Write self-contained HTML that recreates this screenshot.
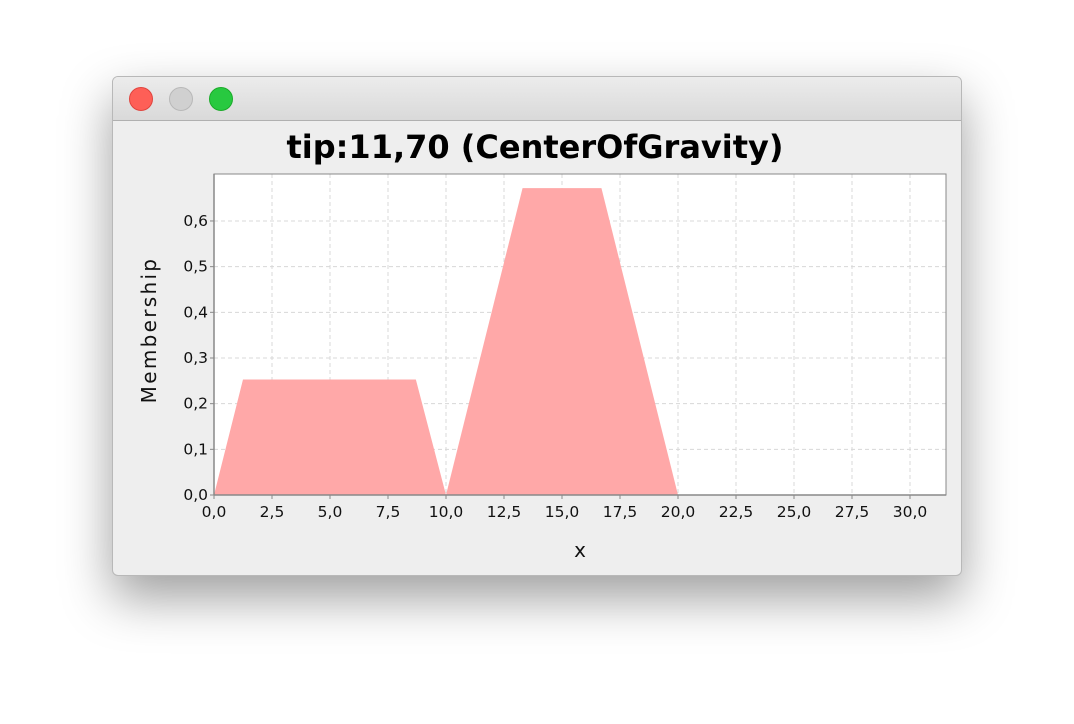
<!DOCTYPE html>
<html><head><meta charset="utf-8"><style>
body{margin:0;width:1074px;height:724px;background:#fff;position:relative;overflow:hidden;font-family:"Liberation Sans",sans-serif}
#win{position:absolute;left:112px;top:76px;width:850px;height:500px;border-radius:6px;background:#eeeeee;box-shadow:0 22px 50px rgba(0,0,0,0.38);border:1px solid #b8b8b8;box-sizing:border-box;overflow:hidden}
#bar{position:absolute;left:0;top:0;width:100%;height:43px;background:linear-gradient(#ececec,#d9d9d9);border-bottom:1px solid #b0b0b0}
.dot{position:absolute;top:10px;width:24px;height:24px;border-radius:50%;box-sizing:border-box}
</style></head><body>
<div id="win">
<div id="bar">
<div class="dot" style="left:16px;background:#fe5f57;border:1px solid #e0443e"></div>
<div class="dot" style="left:56px;background:#d0d0d0;border:1px solid #b8b8b8"></div>
<div class="dot" style="left:96px;background:#28c940;border:1px solid #1aab29"></div>
</div>
</div>
<svg id="chart" width="1074" height="724" style="position:absolute;left:0;top:0"></svg>
<script>
const xTicks=[0,2.5,5,7.5,10,12.5,15,17.5,20,22.5,25,27.5,30];
const yTicks=[0,0.1,0.2,0.3,0.4,0.5,0.6];
const xVals=[0,1.25,8.7,10,13.3,16.7,20,31.5];
const yVals=[0,0.253,0.253,0,0.672,0.672,0,0];
const L=214,R=946,T=174,B=495;
const sx=v=>L+v*23.2, sy=v=>B-v*456.7;
const svg=document.getElementById('chart');
const NS='http://www.w3.org/2000/svg';
function mk(t,a,p){const e=document.createElementNS(NS,t);for(const k in a)e.setAttribute(k,a[k]);(p||svg).appendChild(e);return e;}
const title=mk('text',{x:535,y:158,'text-anchor':'middle','font-size':32,'font-weight':'bold',fill:'#000','font-family':'"DejaVu Sans",sans-serif'});
title.textContent='tip:11,70 (CenterOfGravity)';


const bg=mk('rect',{x:L,y:T,width:R-L,height:B-T,fill:'#fff'});


xTicks.forEach(v=>{const g=mk('line',{x1:sx(v),x2:sx(v),y1:T,y2:B,stroke:'#d8d8d8','stroke-dasharray':'4,3'});

});
yTicks.forEach(v=>{const g=mk('line',{x1:L,x2:R,y1:sy(v),y2:sy(v),stroke:'#d8d8d8','stroke-dasharray':'4,3'});

});
const pts=xVals.map((x,i)=>sx(x)+','+sy(yVals[i])).join(' ');
const area=mk('polygon',{points:pts+' '+sx(xVals[xVals.length-1])+','+B+' '+sx(0)+','+B,fill:'#ffa8a8'});


mk('rect',{x:L,y:T,width:R-L,height:B-T,fill:'none',stroke:'#888','stroke-width':1});
const ax=mk('line',{x1:L,x2:R,y1:B,y2:B,stroke:'#888','stroke-width':1.5});


const ay=mk('line',{x1:L,x2:L,y1:T,y2:B,stroke:'#888','stroke-width':1.5});


const fmt=v=>v.toFixed(1).replace('.',',');
xTicks.forEach(v=>{mk('line',{x1:sx(v),x2:sx(v),y1:B,y2:B+4,stroke:'#888'});
const t=mk('text',{x:sx(v),y:B+22,'text-anchor':'middle','font-size':15.5,fill:'#111','font-family':'"DejaVu Sans",sans-serif'});t.textContent=fmt(v);

});
yTicks.forEach(v=>{mk('line',{x1:L-4,x2:L,y1:sy(v),y2:sy(v),stroke:'#888'});
const t=mk('text',{x:L-6,y:sy(v)+5,'text-anchor':'end','font-size':15.5,fill:'#111','font-family':'"DejaVu Sans",sans-serif'});t.textContent=fmt(v);

});
const xt=mk('text',{x:580,y:557,'text-anchor':'middle','font-size':20,fill:'#111','font-family':'"DejaVu Sans",sans-serif'});xt.textContent='x';


const yt=mk('text',{x:0,y:0,transform:'translate(156,330) rotate(-90)','text-anchor':'middle','font-size':20,'letter-spacing':'2.3',fill:'#111','font-family':'"DejaVu Sans",sans-serif'});yt.textContent='Membership';


</script>
</body></html>
